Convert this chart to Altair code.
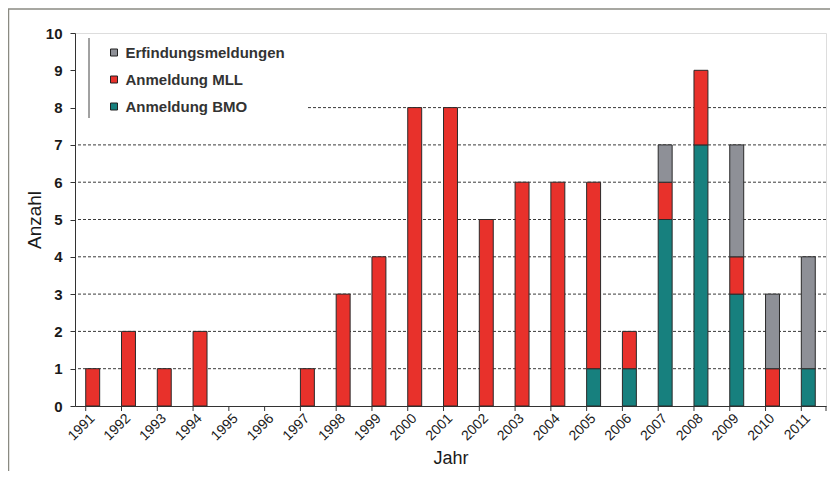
import altair as alt
import pandas as pd

years = ["1991", "1992", "1993", "1994", "1995", "1996", "1997", "1998", "1999", "2000",
         "2001", "2002", "2003", "2004", "2005", "2006", "2007", "2008", "2009", "2010", "2011"]
bmo = [0, 0, 0, 0, 0, 0, 0, 0, 0, 0, 0, 0, 0, 0, 1, 1, 5, 7, 3, 0, 1]
mll = [1, 2, 1, 2, 0, 0, 1, 3, 4, 8, 8, 5, 6, 6, 5, 1, 1, 2, 1, 1, 0]
erf = [0, 0, 0, 0, 0, 0, 0, 0, 0, 0, 0, 0, 0, 0, 0, 0, 1, 0, 3, 2, 3]
series = ["Erfindungsmeldungen", "Anmeldung MLL", "Anmeldung BMO"]
colors = ["#8e9097", "#e8312b", "#17807e"]
grid_values = [1, 2, 3, 4, 5, 6, 7, 8]
y_ticks = [0, 1, 2, 3, 4, 5, 6, 7, 8, 9, 10]

rows = []
for i, yr in enumerate(years):
    for name, vals, order in ((series[2], bmo, 0), (series[1], mll, 1), (series[0], erf, 2)):
        if vals[i] > 0:
            rows.append({"Jahr": yr, "Serie": name, "Anzahl": vals[i], "ord": order})
df = pd.DataFrame(rows)

W, H = 751, 373
FONT = "Liberation Sans"
xscale = alt.Scale(domain=years, paddingInner=0.61, paddingOuter=0.3)
yscale = alt.Scale(domain=[0, 10], nice=False, zero=True)

x_axis = alt.Axis(title="Jahr", ticks=False, labelAngle=315, labelAlign="right",
                  labelBaseline="middle", labelPadding=10, labelFont=FONT,
                  labelFontSize=14, labelFontWeight="normal", labelColor="#1a1a1a",
                  domainColor="#333", domainWidth=1,
                  titleFont=FONT, titleFontSize=18, titleFontWeight="normal",
                  titleColor="#1a1a1a", titleY=57, titleBaseline="alphabetic")
y_axis = alt.Axis(title="Anzahl", values=y_ticks, grid=False, tickSize=5,
                  tickColor="#333", labelPadding=8, labelFont=FONT, labelFontSize=15,
                  labelFontWeight="bold", labelColor="#1a1a1a", domainColor="#333",
                  domainWidth=1, titleFont=FONT, titleFontSize=19,
                  titleFontWeight="normal", titleColor="#1a1a1a", titleX=-41,
                  titleY=186.5, titleAngle=270, titleBaseline="middle",
                  titleAlign="center")

one = pd.DataFrame({"a": [0]})

grid = alt.Chart(pd.DataFrame({"Anzahl": grid_values})).mark_rule(
    color="#3a3a3a", strokeDash=[3, 2], strokeWidth=1
).encode(y=alt.Y("Anzahl:Q", scale=yscale, axis=y_axis))

cover = alt.Chart(one).mark_rect(color="white").encode(
    x=alt.value(1), x2=alt.value(232), y=alt.value(2), y2=alt.value(90)
)

bars = alt.Chart(df).mark_bar(stroke="#2a2a2a", strokeWidth=1).encode(
    x=alt.X("Jahr:O", scale=xscale, sort=years, axis=x_axis),
    y=alt.Y("Anzahl:Q", scale=yscale, stack="zero", axis=y_axis),
    color=alt.Color("Serie:N", scale=alt.Scale(domain=series, range=colors),
                    legend=alt.Legend(title=None, orient="none", legendX=31.5, legendY=12,
                                      padding=0, symbolType="square", symbolSize=49,
                                      symbolStrokeColor="#222", symbolStrokeWidth=1,
                                      labelFont=FONT, labelFontSize=15, labelFontWeight="bold",
                                      labelColor="#333", labelOffset=4, rowPadding=11,
                                      fillColor="white")),
    order=alt.Order("ord:Q", sort="ascending"),
)

xticks = alt.Chart(pd.DataFrame({"Jahr": years})).mark_rule(color="#333").encode(
    x=alt.X("Jahr:O", scale=xscale, sort=years, bandPosition=0, axis=x_axis),
    y=alt.value(H), y2=alt.value(H + 5),
)
xtick_end = alt.Chart(one).mark_rule(color="#333").encode(
    x=alt.value(W), y=alt.value(H), y2=alt.value(H + 5)
)

legend_line = alt.Chart(one).mark_rule(color="#444", strokeWidth=1).encode(
    x=alt.value(14), y=alt.value(5), y2=alt.value(85)
)

frame_left = alt.Chart(one).mark_rule(color="#8a8a82", strokeWidth=1.5).encode(
    x=alt.value(-66.5), y=alt.value(-24), y2=alt.value(440)
)
frame_top = alt.Chart(one).mark_rule(color="#8a8a82", strokeWidth=1.5).encode(
    x=alt.value(-67), x2=alt.value(780), y=alt.value(-24)
)

chart = alt.layer(
    frame_left, frame_top, grid, cover, bars, xticks, xtick_end, legend_line
).properties(
    width=W, height=H,
    autosize=alt.AutoSizeParams(type="none"),
    padding={"left": 67, "top": 25, "right": 4, "bottom": 65},
).configure_view(
    stroke="#c4c4c4", strokeWidth=2
).configure(font=FONT)

chart.save("out.html", embed_options={"renderer": "svg", "actions": False})
